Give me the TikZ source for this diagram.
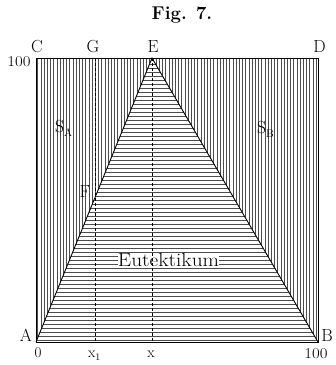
\documentclass[tikz,border=0pt]{standalone}
\begin{document}
\begin{tikzpicture}[x=1pt,y=-1pt,
  hatch/.style={line width=0.55pt,black!70},
  frame/.style={line width=0.9pt},
  edge/.style={line width=0.9pt},
  dashline/.style={line width=0.8pt,dash pattern=on 3pt off 2pt},
  lab/.style={font=\fontsize{17.5}{20}\selectfont,inner sep=0pt},
  num/.style={font=\fontsize{15}{17}\selectfont,inner sep=0pt},
  txt/.style={font=\fontsize{19}{22}\selectfont,inner sep=0pt}]
\useasboundingbox (0,0) rectangle (336,365);
\coordinate (A) at (36,342);
\coordinate (B) at (318,342);
\coordinate (C) at (36,58);
\coordinate (D) at (318,58);
\coordinate (E) at (152,58);
\coordinate (G) at (95,58);
\coordinate (Gb) at (95,342);
\coordinate (X) at (152,342);
\coordinate (F) at (95,197.5);
% vertical hatching in the square
\foreach \i in {0,...,87} {
  \draw[hatch] ({37.6+3.2*\i},58) -- ({37.6+3.2*\i},342);
}
% triangle white and horizontal hatching
\fill[white] (A) -- (E) -- (B) -- cycle;
\begin{scope}
  \clip (A) -- (E) -- (B) -- cycle;
  \foreach \j in {0,...,71} {
    \draw[hatch] (36,{340.5-4*\j}) -- (318,{340.5-4*\j});
  }
\end{scope}
% text inside the triangle, with a white band behind it
\node[txt,fill=white] (eut) at (168.5,260) {\scalebox{1.12}[1]{Eutektikum}};
% dashed lines
\draw[dashline] (G) -- (Gb);
\draw[dashline] (E) -- (X);
% edges
\draw[edge] (A) -- (E) -- (B);
\draw[frame] (A) rectangle (D);
% labels
\node[font=\bfseries\fontsize{18.5}{21}\selectfont,inner sep=0pt] (fig) at (182,15) {Fig. 7.};
\node[lab] (lC) at (37,47) {C};
\node[lab] (lG) at (93,47) {G};
\node[lab] (lE) at (153,47) {E};
\node[lab] (lD) at (319.5,47) {D};
\node[num] (l100) at (19,62) {\scalebox{1.12}[1]{100}};
\node[lab,anchor=base west] (lSA) at (55,132) {S\raisebox{-0.55ex}{\fontsize{11}{12}\selectfont A}};
\node[lab,anchor=base west] (lSB) at (257,133) {S\raisebox{-0.55ex}{\fontsize{11}{12}\selectfont B}};
\node[lab] (lF) at (85,192) {F};
\node[lab] (lA) at (26,335) {A};
\node[lab] (lB) at (327,336) {B};
\node[num] (l0) at (38,353) {0};
\node[num,anchor=base west] (lx1) at (88,357) {x\raisebox{-0.5ex}{\fontsize{10}{11}\selectfont 1}};
\node[num,anchor=base] (lx) at (151,357) {x};
\node[num] (lb100) at (316,354) {\scalebox{1.12}[1]{100}};
\end{tikzpicture}
\end{document}
